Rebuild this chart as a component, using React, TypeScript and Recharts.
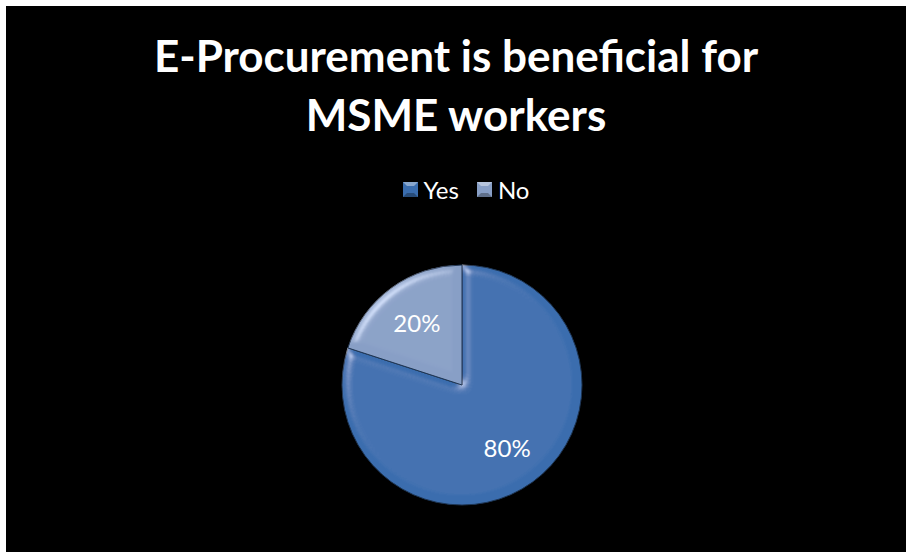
import React from "react";
import { PieChart, Pie, Cell, Legend } from "recharts";

const titleLines = ["E-Procurement is beneficial for", "MSME workers"];
const categories = ["Yes", "No"];
const values = [80, 20];
const colors = ["#3A6DAE", "#889FC6"];

const data = categories.map((name, i) => ({ name, value: values[i] }));

const RAD = Math.PI / 180;

const renderLabel = (props: any) => {
  const { cx, cy, midAngle, outerRadius, percent } = props;
  const r = outerRadius * 0.64;
  const x = cx + r * Math.cos(-midAngle * RAD);
  const y = cy + r * Math.sin(-midAngle * RAD);
  return (
    <text
      x={x}
      y={y}
      fill="#FFFFFF"
      textAnchor="middle"
      dominantBaseline="central"
      fontFamily="Lato, 'Open Sans', sans-serif"
      fontSize={24}
    >
      {`${Math.round(percent * 100)}%`}
    </text>
  );
};

const renderLegend = (props: any) => {
  const payload = [...(props.payload || [])].sort(
    (a: any, b: any) => categories.indexOf(a.value) - categories.indexOf(b.value)
  );
  return (
    <div style={{ display: "flex", justifyContent: "center", alignItems: "center", gap: 18 }}>
      {payload.map((p: any, i: number) => (
        <div key={i} style={{ display: "flex", alignItems: "center", gap: 6 }}>
          <svg width={15} height={15}>
            <rect x={0} y={0} width={15} height={15} fill={p.color} />
            <polygon points="0,0 15,0 11,4 4,4" fill="#ffffff" opacity={0.4} />
            <polygon points="0,15 15,15 11,11 4,11" fill="#000000" opacity={0.3} />
          </svg>
          <span style={{ color: "#FFFFFF", fontFamily: "Lato, 'Open Sans', sans-serif", fontSize: 24 }}>
            {p.value}
          </span>
        </div>
      ))}
    </div>
  );
};

export default function App() {
  return (
    <div style={{ position: "fixed", left: 0, top: 0, width: 906, height: 552, background: "#FFFFFF" }}>
      <div style={{ position: "absolute", left: 6, top: 6, width: 900, height: 546, background: "#000000" }}>
        <div
          style={{
            position: "absolute",
            left: 0,
            top: 20,
            width: 900,
            textAlign: "center",
            color: "#FFFFFF",
            fontFamily: "Lato, 'Open Sans', sans-serif",
            fontWeight: 700,
            fontSize: 44,
            lineHeight: "59px",
          }}
        >
          {titleLines.map((t, i) => (
            <div key={i}>{t}</div>
          ))}
        </div>
        <div style={{ position: "absolute", left: 0, top: 0 }}>
          <PieChart width={900} height={546}>
            <defs>
              <filter id="bevel" x="-10%" y="-10%" width="120%" height="120%">
                <feGaussianBlur in="SourceAlpha" stdDeviation="5" result="blur" />
                <feSpecularLighting
                  in="blur"
                  surfaceScale="5"
                  specularConstant="0.7"
                  specularExponent="30"
                  lightingColor="#FFFFFF"
                  result="spec"
                >
                  <feDistantLight azimuth="225" elevation="40" />
                </feSpecularLighting>
                <feComposite in="spec" in2="SourceAlpha" operator="in" result="specOut" />
                <feComposite in="SourceGraphic" in2="specOut" operator="arithmetic" k1="0" k2="1" k3="0.5" k4="0" />
              </filter>
            </defs>
            <Legend
              verticalAlign="top"
              content={renderLegend}
              wrapperStyle={{ top: 169, left: 10, width: 900 }}
            />
            <Pie
              data={data}
              dataKey="value"
              nameKey="name"
              cx={451}
              cy={345}
              outerRadius={120}
              startAngle={90}
              endAngle={-270}
              label={renderLabel}
              labelLine={false}
              stroke="#1E3553"
              strokeWidth={1}
              isAnimationActive={false}
            >
              {data.map((d, i) => (
                <Cell key={d.name} fill={colors[i]} style={{ filter: "url(#bevel)" }} />
              ))}
            </Pie>
          </PieChart>
        </div>
      </div>
    </div>
  );
}
